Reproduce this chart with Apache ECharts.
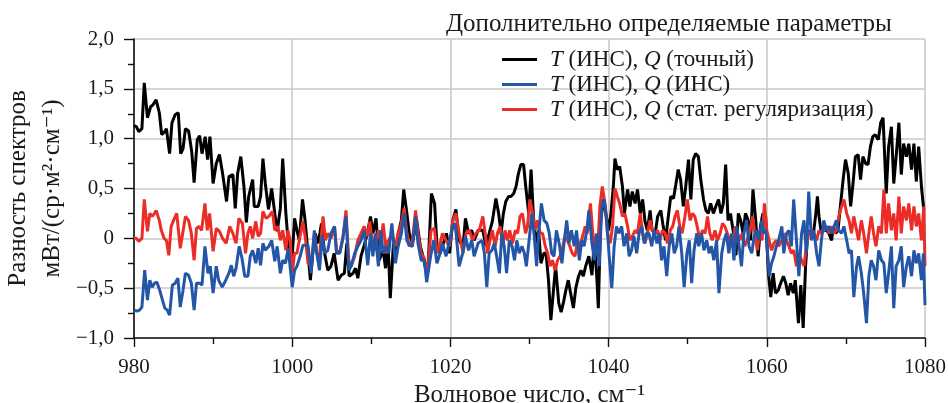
<!DOCTYPE html>
<html>
<head>
<meta charset="utf-8">
<script src="https://cdn.jsdelivr.net/npm/echarts@6/dist/echarts.min.js"></script>
<style>
html,body{margin:0;padding:0;background:#fff;}
#c{width:948px;height:403px;}
</style>
</head>
<body>
<div id="c"></div>
<script>
// Wavenumber (cm^-1), spectrum difference pairs
const blackData = [[980.0,1.13],[980.3,1.12],[980.6,1.07],[981.0,1.10],[981.3,1.56],[981.7,1.21],[982.1,1.32],[982.4,1.34],[982.8,1.39],[983.2,1.26],[983.5,1.04],[983.9,1.07],[984.1,1.10],[984.5,0.85],[984.8,1.16],[985.2,1.24],[985.6,1.26],[985.9,0.85],[986.2,0.90],[986.5,1.10],[986.9,1.08],[987.3,0.87],[987.6,0.56],[988.0,0.99],[988.3,1.03],[988.6,0.85],[989.0,1.02],[989.3,0.79],[989.6,1.02],[990.0,0.55],[990.4,0.75],[990.8,0.84],[991.2,0.65],[991.7,0.37],[992.0,0.62],[992.5,0.64],[992.8,0.30],[993.1,0.65],[993.5,0.82],[993.9,0.52],[994.2,0.16],[994.5,0.42],[995.0,0.59],[995.2,0.32],[995.7,0.32],[996.0,0.42],[996.3,0.80],[996.6,0.55],[997.0,0.29],[997.4,0.50],[997.8,0.25],[998.1,0.07],[998.5,0.30],[998.8,0.80],[999.2,0.25],[999.6,-0.15],[1000.0,-0.18],[1000.3,0.20],[1000.6,0.08],[1000.9,-0.02],[1001.3,0.39],[1001.6,0.20],[1002.0,-0.15],[1002.3,-0.42],[1002.6,-0.15],[1002.9,0.05],[1003.3,-0.05],[1003.7,0.15],[1004.1,-0.15],[1004.5,-0.32],[1004.9,-0.28],[1005.3,-0.15],[1005.8,-0.42],[1006.2,-0.37],[1006.6,-0.35],[1006.9,-0.05],[1007.2,-0.38],[1007.7,-0.35],[1008.0,-0.30],[1008.3,-0.40],[1008.7,-0.18],[1009.1,-0.07],[1009.5,0.05],[1009.9,0.22],[1010.2,0.05],[1010.6,0.20],[1011.0,-0.22],[1011.5,-0.12],[1011.8,-0.30],[1012.1,-0.02],[1012.4,-0.60],[1012.8,-0.05],[1013.1,-0.15],[1013.4,0.05],[1013.8,0.18],[1014.1,0.49],[1014.5,0.25],[1014.8,0.05],[1015.2,-0.05],[1015.5,0.08],[1015.7,0.20],[1016.2,-0.08],[1016.5,-0.17],[1016.8,-0.28],[1017.2,-0.25],[1017.6,0.45],[1018.0,0.35],[1018.3,-0.07],[1018.7,-0.15],[1019.0,-0.08],[1019.5,0.05],[1019.9,-0.15],[1020.3,0.18],[1020.7,0.29],[1021.1,-0.02],[1021.6,-0.08],[1021.9,0.20],[1022.3,0.05],[1022.7,0.08],[1023.0,-0.02],[1023.5,0.08],[1024.1,0.08],[1024.5,-0.08],[1024.9,0.05],[1025.3,0.17],[1025.75,0.40],[1026.1,0.25],[1026.4,0.05],[1026.7,0.25],[1027.0,0.37],[1027.35,0.42],[1027.65,0.42],[1028.0,0.45],[1028.3,0.52],[1028.6,0.65],[1028.9,0.74],[1029.25,0.74],[1029.55,0.50],[1029.9,0.25],[1030.2,0.69],[1030.5,0.22],[1030.8,-0.05],[1031.15,0.08],[1031.45,-0.25],[1031.8,-0.15],[1032.1,-0.15],[1032.4,-0.42],[1032.7,-0.82],[1033.0,-0.55],[1033.3,-0.28],[1033.7,-0.65],[1034.0,-0.74],[1034.3,-0.64],[1034.6,-0.52],[1034.9,-0.42],[1035.2,-0.55],[1035.55,-0.70],[1035.85,-0.50],[1036.2,-0.38],[1036.5,-0.32],[1036.8,-0.38],[1037.1,-0.28],[1037.5,-0.18],[1037.9,-0.37],[1038.2,-0.02],[1038.5,-0.38],[1038.7,-0.70],[1039.0,0.18],[1039.35,0.39],[1039.65,0.25],[1040.0,0.08],[1040.3,0.25],[1040.6,0.52],[1040.8,0.80],[1041.1,0.69],[1041.4,0.72],[1041.75,0.52],[1042.0,0.25],[1042.4,0.49],[1042.7,0.32],[1043.0,0.47],[1043.35,0.35],[1043.65,0.49],[1044.0,0.25],[1044.3,0.39],[1044.6,0.17],[1044.9,0.08],[1045.25,0.28],[1045.5,0.08],[1045.9,0.05],[1046.2,0.22],[1046.6,0.28],[1046.9,0.12],[1047.2,-0.02],[1047.55,0.22],[1047.85,0.42],[1048.2,0.40],[1048.5,0.54],[1048.8,0.69],[1049.1,0.59],[1049.45,0.32],[1049.75,0.52],[1050.1,0.79],[1050.4,0.39],[1050.7,0.79],[1051.0,0.85],[1051.35,0.82],[1051.65,0.59],[1052.0,0.39],[1052.3,0.28],[1052.6,0.25],[1052.9,0.35],[1053.25,0.25],[1053.55,0.32],[1053.9,0.39],[1054.2,0.25],[1054.5,0.35],[1054.8,0.74],[1055.1,0.18],[1055.4,0.25],[1055.8,0.05],[1056.1,-0.17],[1056.4,0.25],[1056.7,0.18],[1057.0,0.05],[1057.3,0.25],[1057.65,0.18],[1057.95,-0.02],[1058.25,0.49],[1058.6,0.18],[1058.9,-0.18],[1059.2,0.12],[1059.5,0.25],[1059.85,0.22],[1060.2,-0.35],[1060.5,-0.59],[1060.8,-0.35],[1061.1,-0.55],[1061.45,-0.52],[1061.75,-0.45],[1062.1,-0.38],[1062.4,-0.45],[1062.7,-0.57],[1063.0,-0.45],[1063.35,-0.55],[1063.6,-0.42],[1064.0,-0.85],[1064.3,-0.47],[1064.6,-0.90],[1064.9,-0.28],[1065.2,0.08],[1065.5,0.05],[1065.9,0.05],[1066.2,0.25],[1066.4,0.42],[1066.6,0.22],[1066.9,0.05],[1067.2,0.08],[1067.55,0.08],[1067.85,0.05],[1068.2,-0.02],[1068.4,0.12],[1068.7,0.05],[1069.0,0.08],[1069.3,0.32],[1069.65,0.59],[1069.95,0.79],[1070.3,0.65],[1070.6,0.32],[1070.9,0.55],[1071.2,0.82],[1071.55,0.84],[1071.85,0.59],[1072.15,0.82],[1072.5,0.75],[1072.8,0.74],[1073.1,0.92],[1073.4,1.02],[1073.7,1.04],[1074.1,0.99],[1074.4,1.16],[1074.7,1.21],[1075.1,0.45],[1075.4,0.92],[1075.75,1.12],[1076.05,0.55],[1076.35,0.82],[1076.7,1.16],[1077.0,0.64],[1077.3,0.95],[1077.65,0.82],[1077.95,0.95],[1078.3,0.69],[1078.6,0.95],[1078.9,0.57],[1079.2,0.92],[1079.55,0.52],[1079.85,0.28],[1080.0,0.28]];

const blueData = [[980.0,-0.72],[980.4,-0.73],[980.7,-0.72],[981.0,-0.69],[981.35,-0.32],[981.7,-0.62],[982.0,-0.42],[982.3,-0.49],[982.6,-0.45],[982.9,-0.44],[983.25,-0.52],[983.6,-0.62],[983.9,-0.70],[984.2,-0.72],[984.5,-0.77],[984.85,-0.47],[985.2,-0.45],[985.55,-0.40],[985.85,-0.69],[986.2,-0.52],[986.5,-0.35],[986.9,-0.37],[987.25,-0.45],[987.6,-0.72],[987.9,-0.45],[988.3,-0.45],[988.6,-0.47],[988.97,-0.08],[989.35,-0.35],[989.64,-0.28],[990.0,-0.55],[990.4,-0.28],[990.7,-0.42],[991.15,-0.49],[991.6,-0.42],[992.0,-0.35],[992.3,-0.27],[992.6,-0.38],[992.9,-0.30],[993.3,-0.08],[993.65,-0.20],[994.0,-0.38],[994.4,-0.38],[994.7,-0.18],[995.0,-0.12],[995.4,-0.25],[995.7,-0.10],[996.0,-0.27],[996.3,-0.05],[996.6,-0.12],[997.05,-0.08],[997.4,-0.02],[997.8,-0.23],[998.1,-0.08],[998.5,-0.35],[998.8,-0.22],[999.15,-0.25],[999.5,-0.10],[1000.0,-0.49],[1000.3,-0.32],[1000.6,-0.28],[1001.0,-0.18],[1001.35,-0.07],[1001.7,-0.07],[1002.0,-0.07],[1002.4,-0.35],[1002.8,0.08],[1003.1,-0.15],[1003.45,-0.32],[1003.8,0.03],[1004.1,-0.15],[1004.5,-0.12],[1004.9,0.05],[1005.35,0.12],[1005.6,-0.15],[1006.0,-0.15],[1006.4,0.0],[1006.8,0.22],[1007.15,-0.32],[1007.45,-0.28],[1007.9,-0.15],[1008.3,-0.08],[1008.7,-0.02],[1009.1,0.08],[1009.55,-0.27],[1009.9,0.05],[1010.2,-0.18],[1010.5,0.05],[1010.9,-0.28],[1011.2,0.08],[1011.5,-0.15],[1011.9,-0.08],[1012.2,-0.15],[1012.6,0.15],[1013.05,-0.25],[1013.4,-0.08],[1013.8,0.05],[1014.15,0.25],[1014.5,-0.02],[1014.8,-0.07],[1015.2,-0.08],[1015.6,0.22],[1015.9,-0.05],[1016.3,-0.22],[1016.7,-0.22],[1017.0,-0.44],[1017.5,-0.18],[1017.9,-0.02],[1018.3,-0.25],[1018.7,-0.15],[1019.0,-0.05],[1019.45,-0.18],[1019.9,-0.02],[1020.3,0.12],[1020.6,0.15],[1021.1,-0.28],[1021.55,-0.15],[1021.9,0.02],[1022.3,-0.12],[1022.7,-0.02],[1023.0,-0.18],[1023.5,-0.05],[1024.0,-0.02],[1024.3,-0.15],[1024.6,-0.49],[1024.9,-0.15],[1025.25,-0.12],[1025.55,-0.05],[1025.85,-0.18],[1026.2,-0.35],[1026.5,0.05],[1026.8,-0.08],[1027.1,-0.35],[1027.45,-0.02],[1027.8,-0.08],[1028.1,-0.22],[1028.4,-0.02],[1028.7,-0.15],[1029.05,-0.08],[1029.35,-0.15],[1029.6,-0.28],[1029.95,-0.02],[1030.3,0.25],[1030.6,0.02],[1030.9,-0.28],[1031.2,0.08],[1031.5,0.35],[1031.85,0.18],[1032.2,0.15],[1032.5,0.05],[1032.8,-0.15],[1033.1,-0.18],[1033.4,0.08],[1033.75,-0.05],[1034.1,-0.25],[1034.4,-0.02],[1034.7,0.18],[1035.0,-0.05],[1035.3,0.08],[1035.65,-0.08],[1035.95,0.08],[1036.3,-0.22],[1036.6,-0.02],[1036.9,-0.08],[1037.25,0.08],[1037.5,0.28],[1037.9,-0.05],[1038.2,-0.22],[1038.5,0.05],[1038.8,-0.28],[1039.15,0.32],[1039.45,0.39],[1039.75,0.18],[1040.05,-0.15],[1040.4,-0.50],[1040.7,-0.08],[1041.0,0.12],[1041.3,0.05],[1041.65,0.12],[1041.95,-0.08],[1042.3,0.05],[1042.6,-0.18],[1042.9,-0.12],[1043.2,0.02],[1043.55,-0.15],[1043.85,0.05],[1044.2,0.12],[1044.5,-0.05],[1044.8,0.05],[1045.1,0.05],[1045.45,-0.08],[1045.75,0.08],[1046.1,-0.05],[1046.4,0.05],[1046.7,-0.22],[1047.0,-0.08],[1047.35,-0.38],[1047.65,-0.08],[1048.0,0.05],[1048.3,-0.15],[1048.6,-0.08],[1048.9,0.12],[1049.25,-0.15],[1049.55,-0.49],[1049.9,-0.15],[1050.2,-0.02],[1050.5,-0.45],[1050.8,-0.12],[1051.15,0.05],[1051.4,-0.08],[1051.75,0.05],[1052.05,-0.12],[1052.4,-0.02],[1052.7,-0.15],[1053.0,-0.08],[1053.3,-0.22],[1053.65,-0.02],[1053.95,-0.55],[1054.3,-0.15],[1054.6,-0.02],[1054.9,0.05],[1055.2,-0.15],[1055.55,0.05],[1055.85,-0.22],[1056.2,0.12],[1056.5,-0.08],[1056.8,-0.28],[1057.1,0.05],[1057.45,0.18],[1057.75,-0.08],[1058.1,-0.15],[1058.4,0.02],[1058.7,0.08],[1059.0,-0.02],[1059.35,0.18],[1059.65,0.05],[1059.9,0.08],[1060.3,-0.38],[1060.6,-0.25],[1060.9,-0.18],[1061.2,-0.08],[1061.5,-0.02],[1061.9,0.12],[1062.15,-0.15],[1062.5,0.05],[1062.8,0.08],[1063.1,-0.08],[1063.4,0.39],[1063.75,-0.02],[1064.05,-0.38],[1064.4,0.05],[1064.7,0.18],[1065.0,-0.15],[1065.3,0.47],[1065.65,-0.02],[1065.95,0.08],[1066.3,-0.15],[1066.6,-0.28],[1066.9,-0.02],[1067.2,0.18],[1067.55,0.08],[1067.85,0.12],[1068.2,0.05],[1068.5,0.12],[1068.8,0.18],[1069.1,0.08],[1069.45,0.05],[1069.75,0.12],[1070.1,-0.02],[1070.4,-0.15],[1070.7,-0.12],[1071.0,-0.59],[1071.35,-0.28],[1071.6,-0.18],[1071.95,-0.35],[1072.25,-0.55],[1072.6,-0.85],[1072.9,-0.38],[1073.2,-0.22],[1073.5,-0.28],[1073.8,-0.42],[1074.15,-0.12],[1074.5,-0.22],[1074.8,-0.25],[1075.1,-0.55],[1075.4,-0.35],[1075.75,-0.08],[1076.05,-0.70],[1076.35,-0.28],[1076.7,-0.22],[1077.0,-0.08],[1077.3,-0.49],[1077.65,-0.28],[1077.95,-0.18],[1078.3,-0.38],[1078.6,-0.12],[1078.9,-0.25],[1079.2,-0.15],[1079.55,-0.42],[1079.8,-0.15],[1080.0,-0.67]];

const redData = [[980.0,0.0],[980.3,0.0],[980.6,-0.03],[981.0,0.0],[981.3,0.39],[981.7,0.07],[982.0,0.25],[982.3,0.22],[982.6,0.25],[982.8,0.28],[983.2,0.18],[983.45,0.08],[983.8,0.0],[984.1,-0.02],[984.4,-0.17],[984.7,0.12],[985.0,0.18],[985.4,0.25],[985.85,-0.10],[986.2,0.07],[986.5,0.22],[986.9,0.18],[987.25,0.05],[987.6,-0.22],[987.9,0.10],[988.2,0.12],[988.55,0.08],[988.97,0.35],[989.26,0.08],[989.56,0.25],[990.0,-0.13],[990.4,0.10],[990.8,0.07],[991.2,0.0],[991.66,-0.05],[992.1,0.12],[992.5,0.05],[992.9,-0.05],[993.26,0.20],[993.7,0.15],[994.1,-0.15],[994.4,0.05],[994.7,0.12],[995.0,0.0],[995.4,0.17],[995.7,0.02],[996.0,0.05],[996.3,0.27],[996.7,0.20],[997.05,0.22],[997.5,0.27],[997.8,0.08],[998.2,0.12],[998.5,-0.02],[998.8,0.08],[999.2,-0.12],[999.45,0.08],[999.75,-0.02],[1000.0,-0.35],[1000.3,-0.15],[1000.6,-0.15],[1000.9,-0.02],[1001.35,0.17],[1001.7,-0.02],[1002.0,-0.25],[1002.4,-0.28],[1002.8,0.05],[1003.1,-0.15],[1003.45,-0.18],[1003.9,0.22],[1004.2,-0.02],[1004.5,0.05],[1004.9,0.0],[1005.35,0.12],[1005.6,-0.12],[1006.0,-0.15],[1006.4,0.0],[1006.8,0.28],[1007.15,-0.22],[1007.45,-0.28],[1007.9,-0.18],[1008.3,-0.02],[1008.7,0.05],[1009.1,0.12],[1009.5,0.02],[1009.8,0.17],[1010.1,-0.02],[1010.5,-0.12],[1010.9,0.08],[1011.2,-0.02],[1011.5,0.15],[1011.9,-0.15],[1012.2,-0.02],[1012.6,0.05],[1013.05,-0.08],[1013.4,0.05],[1013.8,0.15],[1014.15,0.30],[1014.5,0.05],[1014.8,-0.08],[1015.2,-0.02],[1015.6,0.28],[1015.9,0.05],[1016.3,-0.15],[1016.7,-0.20],[1017.1,-0.35],[1017.55,0.08],[1017.98,0.10],[1018.3,-0.15],[1018.6,-0.08],[1019.0,0.05],[1019.45,-0.02],[1019.9,-0.08],[1020.3,0.18],[1020.7,0.25],[1021.1,0.05],[1021.6,-0.15],[1022.0,0.05],[1022.4,0.08],[1022.8,-0.02],[1023.2,0.05],[1023.65,0.08],[1024.1,0.22],[1024.4,0.05],[1024.7,-0.15],[1025.0,-0.02],[1025.3,0.08],[1025.65,-0.08],[1025.95,0.05],[1026.3,0.12],[1026.6,-0.08],[1026.9,0.08],[1027.2,-0.02],[1027.5,0.08],[1027.85,-0.05],[1028.2,0.08],[1028.5,0.05],[1028.8,0.22],[1029.1,0.25],[1029.5,0.05],[1029.75,0.12],[1030.05,0.39],[1030.4,0.25],[1030.7,0.08],[1031.0,0.18],[1031.35,0.05],[1031.65,0.05],[1032.0,-0.08],[1032.3,-0.15],[1032.6,-0.28],[1032.9,-0.22],[1033.25,-0.32],[1033.55,-0.22],[1033.85,-0.18],[1034.2,-0.08],[1034.5,0.02],[1034.8,-0.02],[1035.1,-0.08],[1035.4,-0.15],[1035.75,-0.18],[1036.1,-0.02],[1036.4,-0.08],[1036.7,0.02],[1037.05,0.12],[1037.3,0.05],[1037.7,0.35],[1038.0,0.05],[1038.25,-0.05],[1038.6,-0.15],[1038.9,0.32],[1039.2,0.52],[1039.6,0.32],[1039.85,0.05],[1040.2,-0.05],[1040.5,0.12],[1040.8,0.50],[1041.1,0.42],[1041.4,0.35],[1041.75,0.22],[1042.05,0.25],[1042.4,0.12],[1042.7,-0.02],[1043.0,0.02],[1043.35,0.08],[1043.65,0.05],[1044.0,0.25],[1044.3,0.05],[1044.6,-0.05],[1044.9,0.05],[1045.25,0.18],[1045.55,0.08],[1045.9,0.05],[1046.2,0.08],[1046.5,-0.02],[1046.8,0.08],[1047.15,0.05],[1047.45,-0.05],[1047.8,0.08],[1048.1,0.12],[1048.4,0.22],[1048.7,0.28],[1049.0,0.12],[1049.3,0.05],[1049.65,0.22],[1049.95,0.39],[1050.3,0.18],[1050.6,0.25],[1050.9,0.22],[1051.2,0.12],[1051.55,-0.02],[1051.85,0.08],[1052.2,0.05],[1052.5,0.22],[1052.8,0.05],[1053.1,-0.02],[1053.45,0.08],[1053.75,-0.02],[1054.1,0.05],[1054.4,0.15],[1054.7,0.12],[1055.0,0.05],[1055.35,-0.02],[1055.65,-0.08],[1056.0,0.12],[1056.3,0.05],[1056.6,-0.02],[1056.9,0.05],[1057.2,-0.08],[1057.5,-0.02],[1057.9,0.08],[1058.2,0.22],[1058.5,0.05],[1058.8,-0.12],[1059.1,0.08],[1059.4,-0.02],[1059.7,0.35],[1060.0,0.08],[1060.3,-0.02],[1060.6,-0.12],[1060.9,-0.05],[1061.2,-0.02],[1061.5,-0.08],[1061.9,-0.02],[1062.15,0.05],[1062.5,-0.02],[1062.8,-0.08],[1063.1,-0.15],[1063.4,-0.12],[1063.75,-0.28],[1064.05,-0.15],[1064.4,-0.22],[1064.7,-0.28],[1065.0,-0.08],[1065.3,0.05],[1065.65,0.08],[1065.95,0.05],[1066.3,-0.02],[1066.6,0.08],[1066.9,0.05],[1067.2,0.08],[1067.55,0.12],[1067.85,0.05],[1068.2,0.12],[1068.5,0.05],[1068.8,0.08],[1069.1,0.22],[1069.45,0.32],[1069.75,0.39],[1070.1,0.25],[1070.4,0.18],[1070.7,0.05],[1071.0,0.22],[1071.35,0.08],[1071.6,-0.02],[1071.95,0.18],[1072.25,0.05],[1072.6,-0.15],[1072.9,0.05],[1073.2,0.22],[1073.5,0.05],[1073.8,-0.08],[1074.15,0.12],[1074.5,0.05],[1074.8,0.49],[1075.1,0.05],[1075.4,0.35],[1075.75,0.08],[1076.05,0.25],[1076.35,-0.02],[1076.7,0.42],[1077.0,0.05],[1077.3,0.32],[1077.65,0.18],[1077.95,0.35],[1078.3,0.08],[1078.6,0.32],[1078.9,0.12],[1079.2,0.25],[1079.55,-0.02],[1079.85,0.32],[1080.0,-0.28]];

const seriesNames = ['T (ИНС), Q (точный)', 'T (ИНС), Q (ИНС)', 'T (ИНС), Q (стат. регуляризация)'];
const legendLabels = ['{i|T} (ИНС), {i|Q} (точный)', '{i|T} (ИНС), {i|Q} (ИНС)', '{i|T} (ИНС), {i|Q} (стат. регуляризация)'];
const xTicks = [980, 1000, 1020, 1040, 1060, 1080];
const yTicks = [-1.0, -0.5, 0, 0.5, 1.0, 1.5, 2.0];

const FONT = "'Liberation Serif', 'DejaVu Serif', 'Times New Roman', serif";
const TXT = '#1a1a1a';
const chart = echarts.init(document.getElementById('c'), null, {renderer: 'canvas'});

function fmtY(v) {
  if (Math.abs(v) < 1e-9) return '0';
  const s = Math.abs(v).toFixed(1).replace('.', ',');
  return (v < 0 ? '\u2212' : '') + s;
}

chart.setOption({
  animation: false,
  backgroundColor: '#fff',
  title: {
    text: 'Дополнительно определяемые параметры',
    left: 441, top: 7,
    textStyle: {fontFamily: FONT, fontSize: 25, fontWeight: 'normal', color: TXT}
  },
  legend: {
    orient: 'vertical',
    left: 497, top: 42,
    itemWidth: 35, itemHeight: 3, itemGap: 0,
    icon: 'rect',
    data: seriesNames,
    formatter: function (name) { return legendLabels[seriesNames.indexOf(name)]; },
    textStyle: {
      fontFamily: FONT, fontSize: 23, color: TXT, padding: [0, 0, 0, 8], lineHeight: 25,
      rich: { i: {fontFamily: FONT, fontSize: 23, fontStyle: 'italic', color: TXT, lineHeight: 25} }
    }
  },
  grid: {left: 134, right: 23, top: 39, bottom: 65, containLabel: false, outerBoundsMode: 'none'},
  xAxis: {
    type: 'value', min: xTicks[0], max: xTicks[xTicks.length - 1], interval: 20,
    name: 'Волновое число, см\u207B\u00B9',
    nameLocation: 'middle', nameGap: 43,
    nameTextStyle: {fontFamily: FONT, fontSize: 25, color: TXT},
    axisLine: {show: true, onZero: false, lineStyle: {color: '#111', width: 1.6}},
    axisTick: {show: true, inside: false, length: 9, lineStyle: {color: '#111', width: 1.4}},
    minorTick: {show: true, splitNumber: 2, length: 6, lineStyle: {color: '#111', width: 1.4}},
    axisLabel: {fontFamily: FONT, fontSize: 21, color: TXT, margin: 19, formatter: function (v) { return String(v); }},
    splitLine: {show: true, lineStyle: {color: '#c9c9c9', width: 1.5}}
  },
  yAxis: {
    type: 'value', min: yTicks[0], max: yTicks[yTicks.length - 1], interval: 0.5,
    name: 'Разность спектров\nмВт/(ср·м\u00B2·см\u207B\u00B9)',
    nameLocation: 'middle', nameGap: 65, nameRotate: 90, nameMoveOverlap: false,
    nameTextStyle: {fontFamily: FONT, fontSize: 25, color: TXT, lineHeight: 34},
    axisLine: {show: true, onZero: false, lineStyle: {color: '#111', width: 1.6}},
    axisTick: {show: true, inside: false, length: 10, lineStyle: {color: '#111', width: 1.4}},
    minorTick: {show: true, splitNumber: 2, length: 6, lineStyle: {color: '#111', width: 1.4}},
    axisLabel: {fontFamily: FONT, fontSize: 21, color: TXT, margin: 20, formatter: fmtY},
    splitLine: {show: true, lineStyle: {color: '#c9c9c9', width: 1.5}}
  },
  series: [
    {name: seriesNames[0], type: 'line', data: blackData, symbol: 'none', z: 2,
     lineStyle: {color: '#000000', width: 3}, itemStyle: {color: '#000000'}},
    {name: seriesNames[1], type: 'line', data: blueData, symbol: 'none', z: 4,
     lineStyle: {color: '#2456a8', width: 3}, itemStyle: {color: '#2456a8'}},
    {name: seriesNames[2], type: 'line', data: redData, symbol: 'none', z: 3,
     lineStyle: {color: '#ec2d27', width: 3}, itemStyle: {color: '#ec2d27'}}
  ]
});
</script>
</body>
</html>
